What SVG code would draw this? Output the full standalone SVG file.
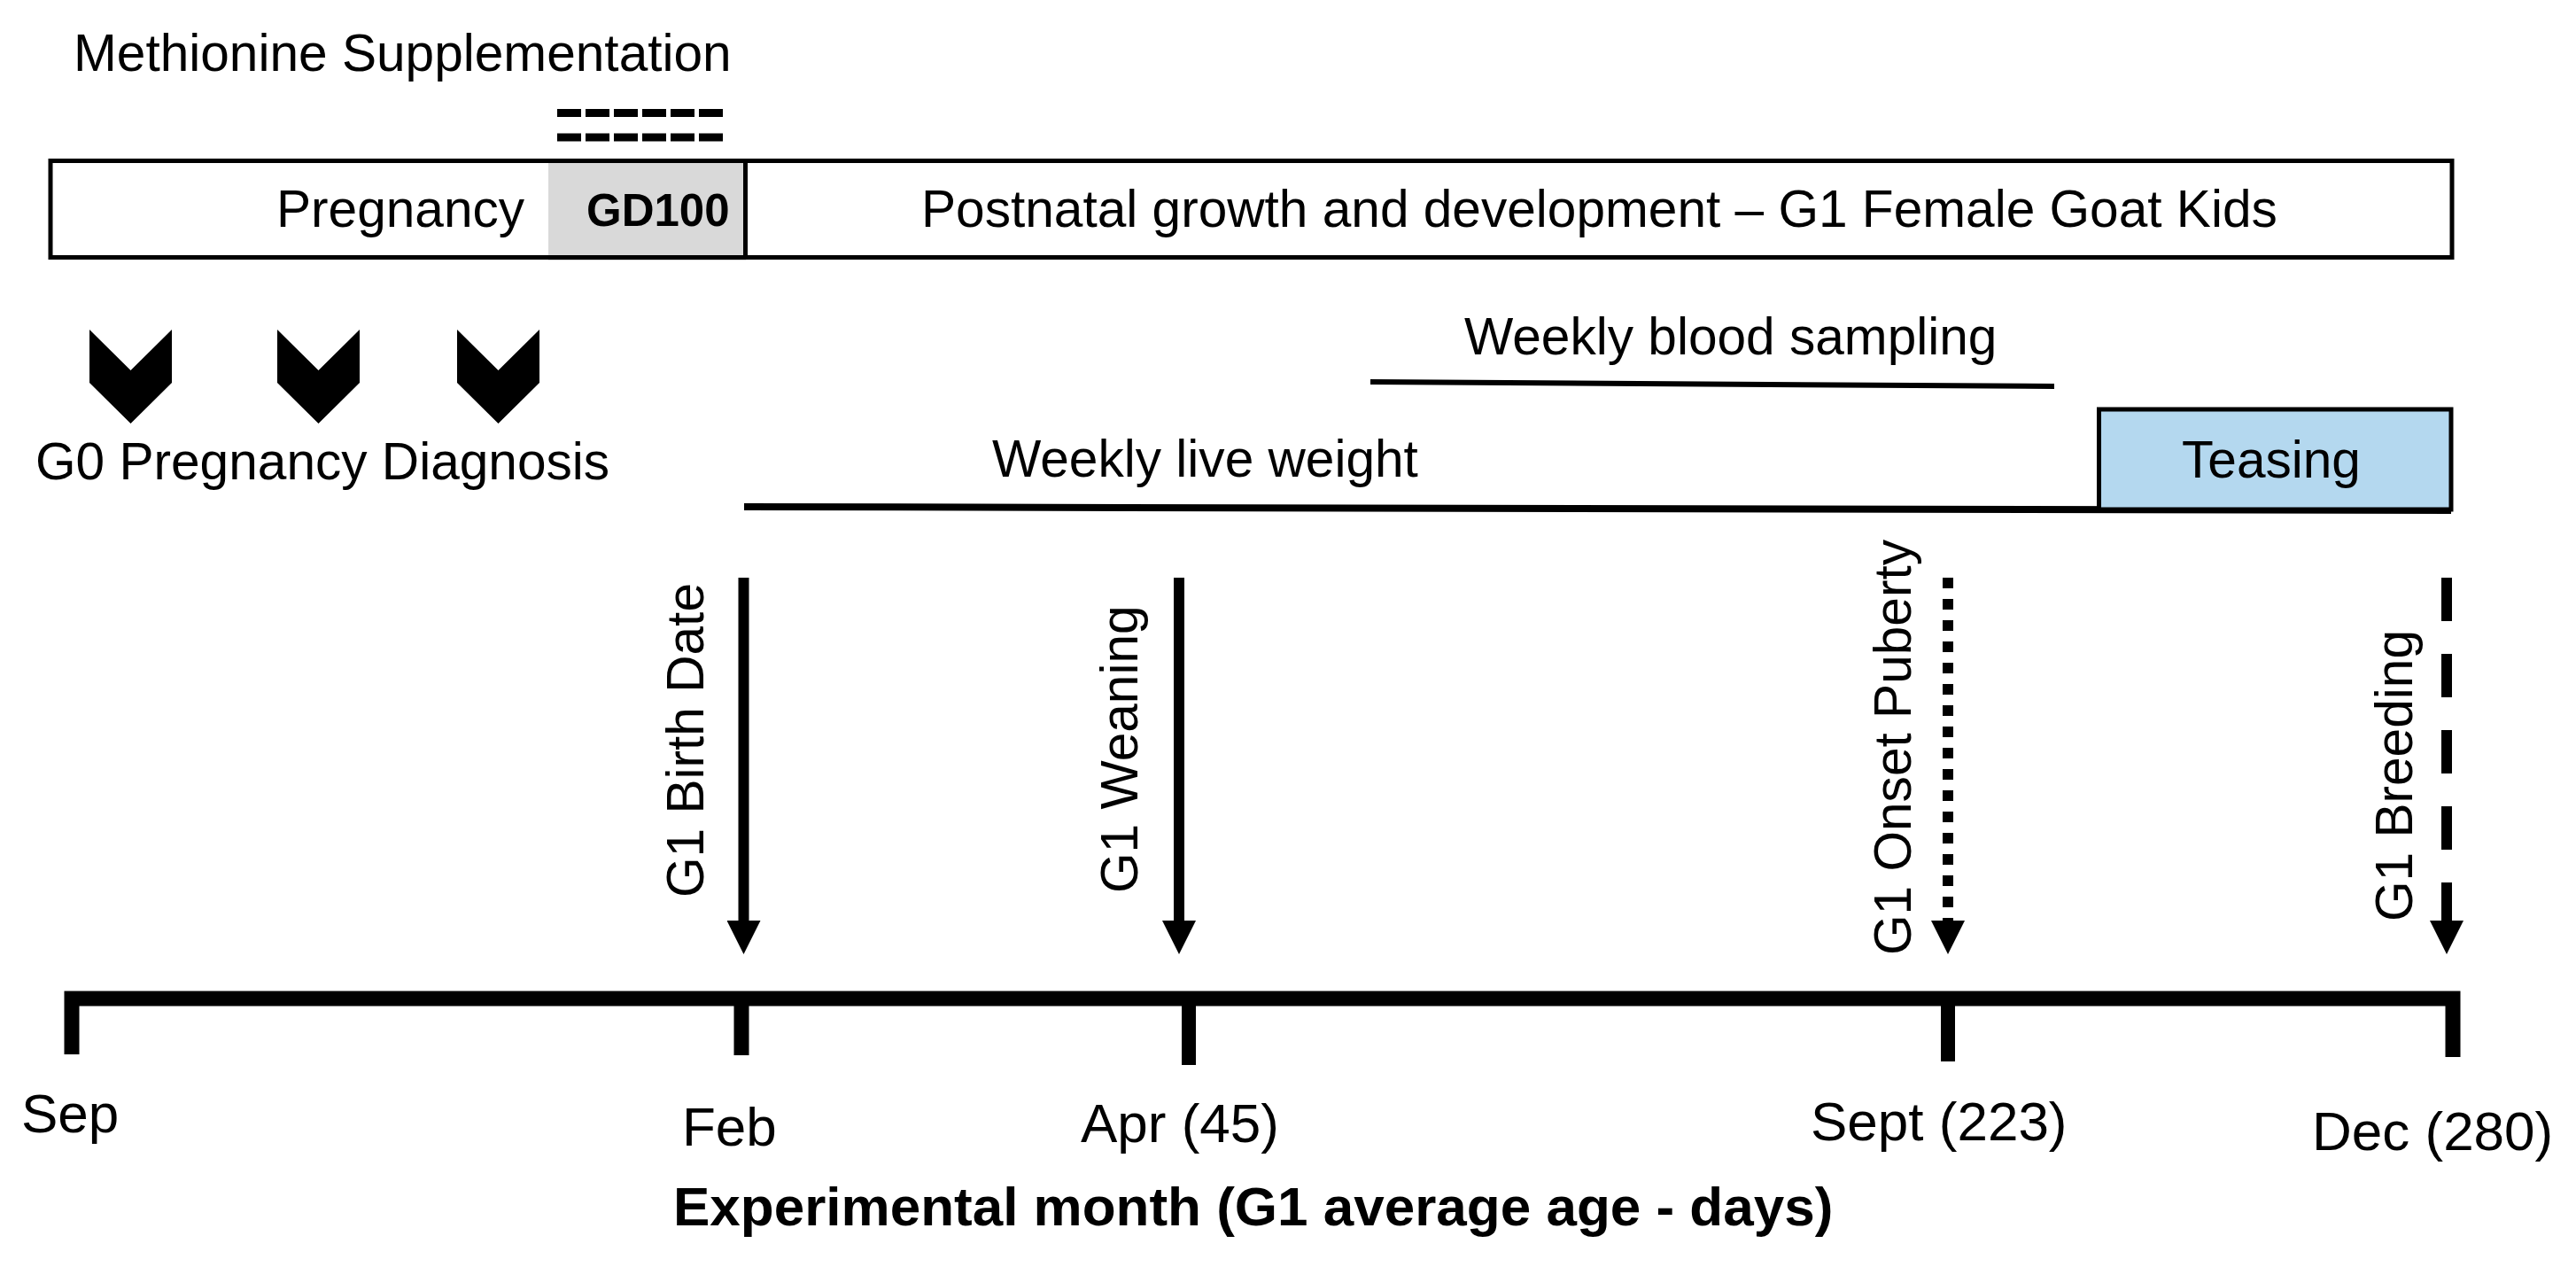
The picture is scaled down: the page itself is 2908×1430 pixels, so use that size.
<svg xmlns="http://www.w3.org/2000/svg" xmlns:xlink="http://www.w3.org/1999/xlink" width="2908" height="1430" viewBox="0 0 2908 1430">
<style>
  text { font-family: "Liberation Sans", Arial, sans-serif; fill: #000; }
  .t58 { font-size: 58.6px; }
  .t62 { font-size: 62px; }
  .bold { font-weight: bold; }
  .line { stroke: #000; fill: none; }
  .shaft { stroke: #000; fill: none; stroke-width: 12; }
</style>
<defs>
  <marker id="ah" markerUnits="userSpaceOnUse" markerWidth="38" markerHeight="38" viewBox="0 0 37 37" refX="0" refY="18.5" orient="auto">
    <path d="M0,0 L37,18.5 L0,37 z" fill="#000"/>
  </marker>
  <path id="chev" d="M-46.5,0 L0,46 L46.5,0 L46.5,60 L0,106 L-46.5,60 z" fill="#000"/>
</defs>
<rect width="2908" height="1430" fill="#fff"/>

<g id="methionine">
  <text class="t58" x="83" y="80">Methionine Supplementation</text>
  <line class="line" x1="629" y1="127.5" x2="816" y2="127.5" stroke-width="9" stroke-dasharray="27 5"/>
  <line class="line" x1="629" y1="155" x2="816" y2="155" stroke-width="9" stroke-dasharray="27 5"/>
</g>

<g id="phase-bar">
  <rect x="57" y="181.5" width="2711" height="109" fill="#fff"/>
  <rect x="619" y="184" width="223" height="110" fill="#d9d9d9"/>
  <rect x="57" y="181.5" width="2711" height="109" fill="none" stroke="#000" stroke-width="5"/>
  <line class="line" x1="841.5" y1="181.5" x2="841.5" y2="290.5" stroke-width="5"/>
  <text class="t58" x="312" y="256">Pregnancy</text>
  <text class="bold" x="662" y="255" font-size="51">GD100</text>
  <text class="t58" x="1040" y="256">Postnatal growth and development – G1 Female Goat Kids</text>
</g>

<g id="g0-diagnosis">
  <use xlink:href="#chev" href="#chev" x="147.5" y="372"/>
  <use xlink:href="#chev" href="#chev" x="359.5" y="372"/>
  <use xlink:href="#chev" href="#chev" x="562.5" y="372"/>
  <text class="t58" x="40" y="541">G0 Pregnancy Diagnosis</text>
</g>

<g id="blood-sampling">
  <text class="t58" x="1653" y="400">Weekly blood sampling</text>
  <line class="line" x1="1547" y1="431" x2="2319" y2="436" stroke-width="6"/>
</g>

<g id="live-weight">
  <text class="t58" x="1120" y="538">Weekly live weight</text>
  <line class="line" x1="840" y1="572" x2="2767" y2="576" stroke-width="8"/>
</g>

<g id="teasing">
  <rect x="2369.5" y="462" width="397.5" height="113" fill="#b4d8ef" stroke="#000" stroke-width="5"/>
  <text class="t58" x="2463" y="539">Teasing</text>
</g>

<g id="timeline">
  <path class="line" d="M81,1190 V1127 H2769 V1193" stroke-width="17" stroke-linejoin="miter"/>
  <line class="line" x1="837" y1="1127" x2="837" y2="1191" stroke-width="17"/>
  <line class="line" x1="1342" y1="1127" x2="1342" y2="1202" stroke-width="16"/>
  <line class="line" x1="2199" y1="1127" x2="2199" y2="1198" stroke-width="16"/>
  <text class="t62" x="24" y="1278">Sep</text>
  <text class="t62" x="770" y="1293">Feb</text>
  <text class="t62" x="1220" y="1289">Apr (45)</text>
  <text class="t62" x="2044" y="1287">Sept (223)</text>
  <text class="t62" x="2610" y="1298">Dec (280)</text>
  <text class="t62 bold" x="760" y="1383">Experimental month (G1 average age - days)</text>
</g>

<g id="event-labels">
  <text class="t58" transform="translate(794,1013) rotate(-90)">G1 Birth Date</text>
  <text class="t58" transform="translate(1284,1008) rotate(-90)">G1 Weaning</text>
  <text class="t58" transform="translate(2157,1078) rotate(-90)">G1 Onset Puberty</text>
  <text class="t58" transform="translate(2723,1040) rotate(-90)">G1 Breeding</text>
</g>

<g id="connectors">
  <line class="shaft" x1="839.5" y1="652" x2="839.5" y2="1039" marker-end="url(#ah)"/>
  <line class="shaft" x1="1331" y1="652" x2="1331" y2="1039" marker-end="url(#ah)"/>
  <line class="shaft" x1="2199" y1="652" x2="2199" y2="1039" stroke-width="13" stroke-dasharray="12 12" marker-end="url(#ah)"/>
  <line class="shaft" x1="2762" y1="652" x2="2762" y2="1039" stroke-width="11" stroke-dasharray="49 37" marker-end="url(#ah)"/>
</g>
</svg>
